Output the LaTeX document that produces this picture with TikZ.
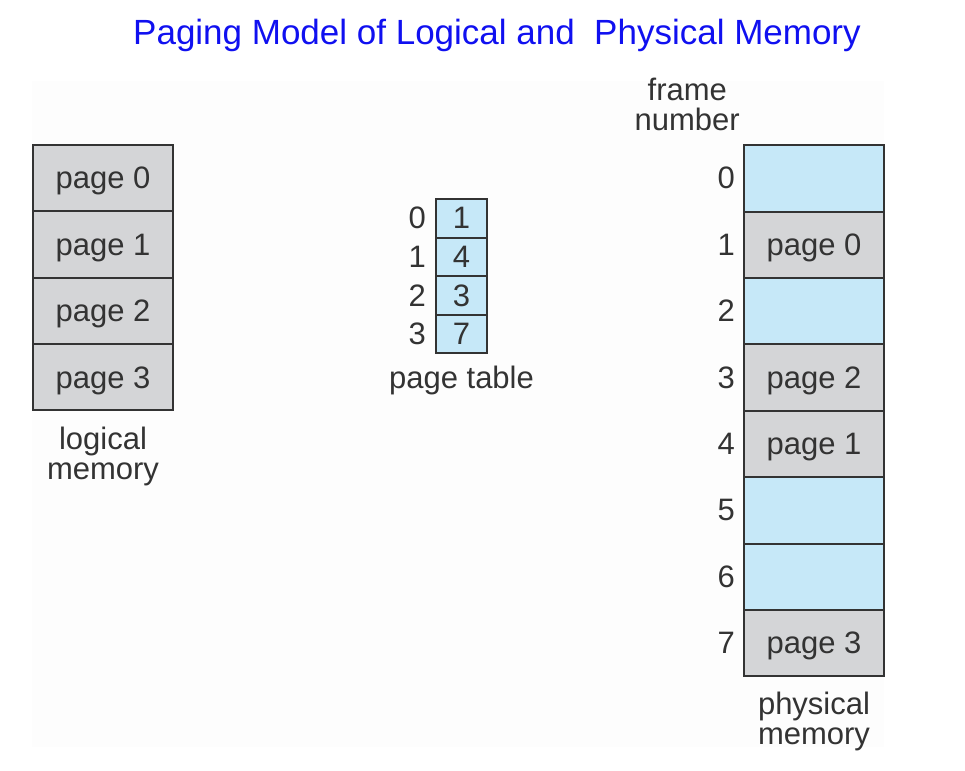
\documentclass[tikz,border=0pt]{standalone}
\usepackage{fontspec}
\setmainfont{Liberation Sans}
\usepackage{xcolor}
\usepackage{tikz}
\usetikzlibrary{positioning}
\definecolor{mem-gray}{RGB}{212, 213, 215}
\definecolor{mem-blue}{RGB}{198, 232, 248}
\definecolor{mem-line}{RGB}{51, 51, 51}
\definecolor{title-blue}{RGB}{16, 16, 240}
\newcommand{\memfont}{\fontsize{31}{30}\selectfont}

\begin{document}
\begin{tikzpicture}[x=1pt, y=-1pt,
        cell/.style={rectangle, draw=mem-line, line width=2pt, outer sep=0pt,
                     minimum width=140pt, minimum height=66.4pt, text depth=0pt,
                     font=\memfont, text=black!80},
        used/.style={cell, fill=mem-gray},
        free/.style={cell, fill=mem-blue},
        entry/.style={cell, fill=mem-blue, minimum width=51pt, minimum height=38.5pt},
        lbl/.style={inner sep=2pt, align=center, font=\memfont, text=black!80}
      ]
        \useasboundingbox (0,0) rectangle (965,770);
        \fill[black!0.7] (32,81) rectangle (884,747);
        \node[anchor=base, font=\fontsize{35}{35}\selectfont, text=title-blue] (title) at (497,45)
          {Paging Model of Logical and\ \ Physical Memory};
        % logical memory
        \node[used] (l0) at (103,178) {page 0};
        \node[used, below=0pt of l0] (l1) {page 1};
        \node[used, below=0pt of l1] (l2) {page 2};
        \node[used, below=0pt of l2] (l3) {page 3};
        \node[lbl, below=14pt of l3] (lmem) {logical\\memory};
        % page table
        \node[entry] (t0) at (461.5,218.3) {1};
        \node[entry, below=0pt of t0] (t1) {4};
        \node[entry, below=0pt of t1] (t2) {3};
        \node[entry, below=0pt of t2] (t3) {7};
        \node[lbl, left=8pt of t0] (i0) {0};
        \node[lbl, left=8pt of t1] (i1) {1};
        \node[lbl, left=8pt of t2] (i2) {2};
        \node[lbl, left=8pt of t3] (i3) {3};
        \node[lbl, below=11pt of t3] (ptab) {page table};
        % physical memory
        \node[free] (p0) at (814,178.3) {};
        \node[used, below=0pt of p0] (p1) {page 0};
        \node[free, below=0pt of p1] (p2) {};
        \node[used, below=0pt of p2] (p3) {page 2};
        \node[used, below=0pt of p3] (p4) {page 1};
        \node[free, below=0pt of p4] (p5) {};
        \node[free, below=0pt of p5] (p6) {};
        \node[used, below=0pt of p6] (p7) {page 3};
        \node[lbl, left=7pt of p0] (f0) {0};
        \node[lbl, left=7pt of p1] (f1) {1};
        \node[lbl, left=7pt of p2] (f2) {2};
        \node[lbl, left=7pt of p3] (f3) {3};
        \node[lbl, left=7pt of p4] (f4) {4};
        \node[lbl, left=7pt of p5] (f5) {5};
        \node[lbl, left=7pt of p6] (f6) {6};
        \node[lbl, left=7pt of p7] (f7) {7};
        \node[lbl, anchor=south east] (fnum) at ([xshift=-2pt, yshift=12pt]p0.north west) {frame\\number};
        \node[lbl, below=14pt of p7] (pmem) {physical\\memory};
      \end{tikzpicture}
\end{document}
